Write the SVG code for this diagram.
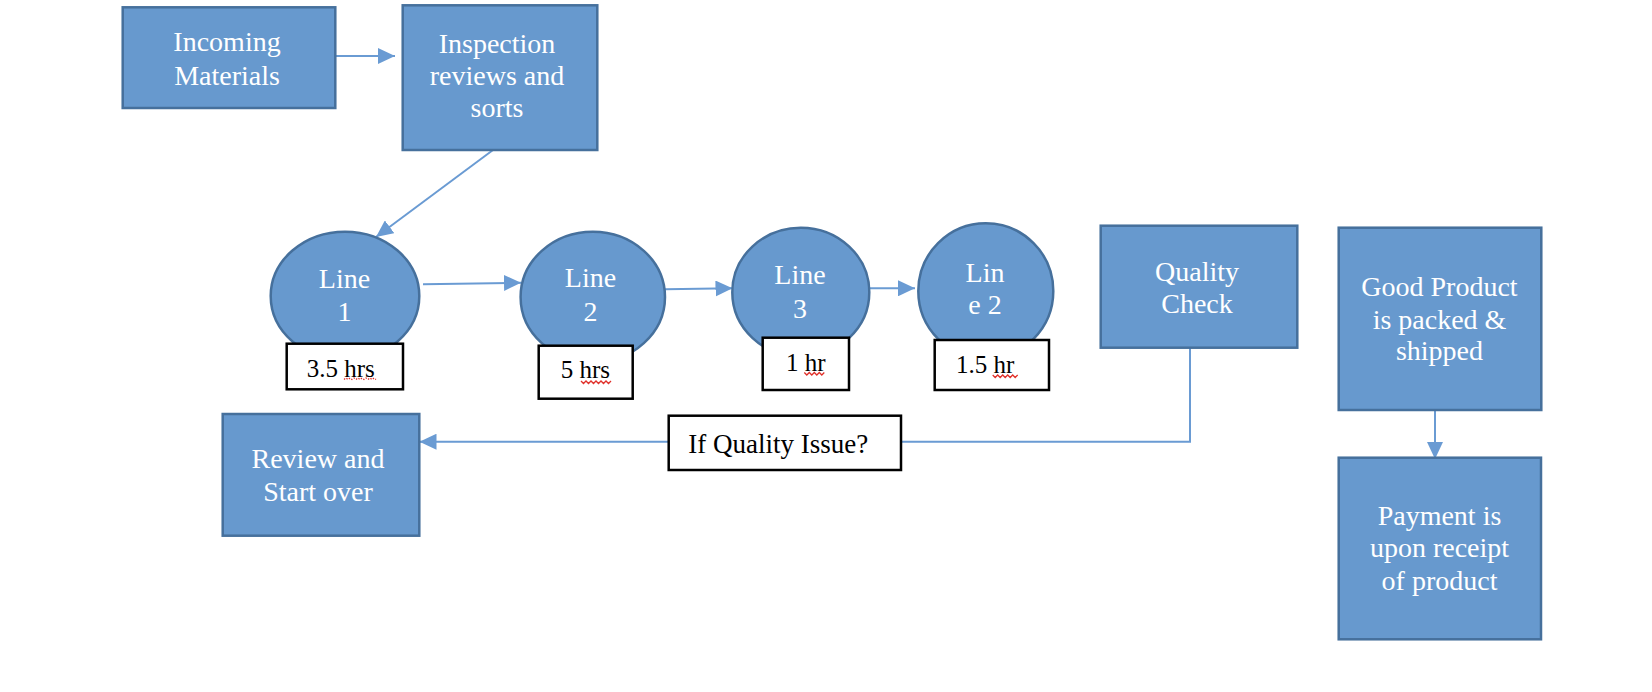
<svg xmlns="http://www.w3.org/2000/svg" width="1652" height="692" viewBox="0 0 1652 692">
<style>
.box{fill:#6799CE;stroke:#46709C;stroke-width:2.5}
.lbl{fill:#FFFFFF;stroke:#000000;stroke-width:2.5}
.t{font-family:"Liberation Serif","Times New Roman",serif;font-size:28px;fill:#FFFFFF;text-anchor:middle}
.k{font-family:"Liberation Serif","Times New Roman",serif;font-size:25px;fill:#000000}
.c{fill:none;stroke:#6A9BD3;stroke-width:2}
.sq{fill:none;stroke:#E0302A;stroke-width:1.3}
</style>
<defs>
<marker id="ah" viewBox="0 0 17 16" refX="17" refY="8" markerUnits="userSpaceOnUse" markerWidth="17" markerHeight="16" orient="auto">
<path d="M0,0 L17,8 L0,16 z" fill="#6A9BD3"/>
</marker>
</defs>
<rect width="1652" height="692" fill="#FFFFFF"/>
<g id="connectors">
<line class="c" x1="335" y1="56" x2="395" y2="56" marker-end="url(#ah)"/>
<line class="c" x1="493" y1="150" x2="376" y2="237" marker-end="url(#ah)"/>
<line class="c" x1="423" y1="284.3" x2="521" y2="282.7" marker-end="url(#ah)"/>
<line class="c" x1="665" y1="289.3" x2="732.5" y2="288.3" marker-end="url(#ah)"/>
<line class="c" x1="869" y1="288.3" x2="915" y2="288.3" marker-end="url(#ah)"/>
<polyline class="c" points="1190,347.7 1190,441.7 419.5,441.7" marker-end="url(#ah)"/>
<line class="c" x1="1435" y1="410" x2="1435" y2="459" marker-end="url(#ah)"/>
</g>
<g id="incoming">
<rect class="box" x="122.7" y="7.3" width="212.6" height="100.7"/>
<text class="t" x="227" y="50.7">Incoming</text>
<text class="t" x="227" y="85">Materials</text>
</g>
<g id="inspection">
<rect class="box" x="402.7" y="5.3" width="194.6" height="144.7"/>
<text class="t" x="497" y="53.3">Inspection</text>
<text class="t" x="497" y="85">reviews and</text>
<text class="t" x="497" y="116.7">sorts</text>
</g>
<g id="line1">
<ellipse class="box" cx="345" cy="296" rx="74.3" ry="64.3"/>
<text class="t" x="344.5" y="288.3">Line</text>
<text class="t" x="344.5" y="321">1</text>
</g>
<g id="line2">
<ellipse class="box" cx="592.8" cy="297" rx="72.2" ry="65.3"/>
<text class="t" x="590.5" y="286.7">Line</text>
<text class="t" x="590.5" y="321">2</text>
</g>
<g id="line3">
<ellipse class="box" cx="800.8" cy="292.2" rx="68.5" ry="64.5"/>
<text class="t" x="800" y="284.3">Line</text>
<text class="t" x="800" y="318.3">3</text>
</g>
<g id="line4">
<ellipse class="box" cx="985.8" cy="291" rx="67.5" ry="67.7"/>
<text class="t" x="985" y="281.7">Lin</text>
<text class="t" x="985" y="314.3">e 2</text>
</g>
<g id="label1">
<rect class="lbl" x="286.7" y="343.7" width="116.3" height="45.6"/>
<text class="k" x="306.7" y="377.3">3.5 hrs</text>
<path class="sq" d="M344,379.5 l2,-1.5 l2,1.5 l2,-1.5 l2,1.5 l2,-1.5 l2,1.5 l2,-1.5 l2,1.5 l2,-1.5 l2,1.5 l2,-1.5 l2,1.5 l2,-1.5 l2,1.5 l2,-1.5 l2,1.5" stroke-dasharray="1.5,1.5"/>
</g>
<g id="label2">
<rect class="lbl" x="538.7" y="345.7" width="94" height="53"/>
<text class="k" x="560.7" y="378.3">5 hrs</text>
<path class="sq" d="M581,381 l2.5,2.5 l2.5,-2.5 l2.5,2.5 l2.5,-2.5 l2.5,2.5 l2.5,-2.5 l2.5,2.5 l2.5,-2.5 l2.5,2.5 l2.5,-2.5 l2.5,2.5 l2.5,-2.5"/>
</g>
<g id="label3">
<rect class="lbl" x="762.7" y="337.7" width="86.3" height="52.3"/>
<text class="k" x="786" y="370.7">1 hr</text>
<path class="sq" d="M804.3,372.5 l2.5,2.5 l2.5,-2.5 l2.5,2.5 l2.5,-2.5 l2.5,2.5 l2.5,-2.5 l2.5,2.5 l2.5,-2.5"/>
</g>
<g id="label4">
<rect class="lbl" x="934.7" y="340" width="114.3" height="50"/>
<text class="k" x="956" y="372.7">1.5 hr</text>
<path class="sq" d="M992.7,375 l2.5,2.5 l2.5,-2.5 l2.5,2.5 l2.5,-2.5 l2.5,2.5 l2.5,-2.5 l2.5,2.5 l2.5,-2.5 l2.5,2.5 l2.5,-2.5"/>
</g>
<g id="quality">
<rect class="box" x="1100.7" y="225.7" width="196.6" height="122"/>
<text class="t" x="1197" y="281">Quality</text>
<text class="t" x="1197" y="312.7">Check</text>
</g>
<g id="good">
<rect class="box" x="1338.7" y="227.7" width="202.6" height="182.3"/>
<text class="t" x="1439.5" y="296">Good Product</text>
<text class="t" x="1439.5" y="329">is packed &amp;</text>
<text class="t" x="1439.5" y="360">shipped</text>
</g>
<g id="payment">
<rect class="box" x="1338.7" y="457.7" width="202.3" height="181.6"/>
<text class="t" x="1439.5" y="525">Payment is</text>
<text class="t" x="1439.5" y="556.7">upon receipt</text>
<text class="t" x="1439.5" y="590">of product</text>
</g>
<g id="review">
<rect class="box" x="222.7" y="414" width="196.6" height="121.7"/>
<text class="t" x="318" y="468.3">Review and</text>
<text class="t" x="318" y="501">Start over</text>
</g>
<g id="ifquality">
<rect class="lbl" x="668.7" y="415.7" width="232.3" height="54.3"/>
<text class="k" x="688.3" y="452.7" style="font-size:27px">If Quality Issue?</text>
</g>
</svg>
